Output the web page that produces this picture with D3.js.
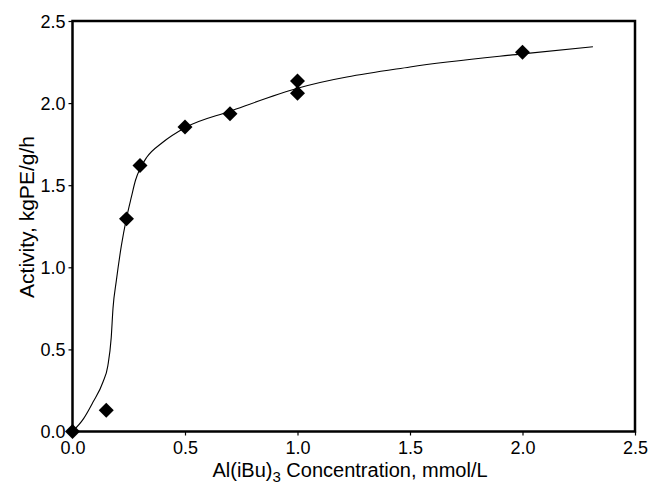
<!DOCTYPE html>
<html>
<head>
<meta charset="utf-8">
<style>
  body { margin: 0; background: #fff; }
  text { font-family: Arial, "Liberation Sans", sans-serif; fill: #000; }
</style>
</head>
<body>
<svg id="chart" width="649" height="484"></svg>
<script src="https://d3js.org/d3.v7.min.js"></script>
<script>

// measured points
var concentration = [0, 0.15, 0.24, 0.3, 0.5, 0.7, 1.0, 1.0, 2.0];
var activity = [0, 0.13, 1.295, 1.62, 1.855, 1.935, 2.135, 2.06, 2.31];

// fitted curve
var fitX = [0, 0.05, 0.09, 0.135, 0.157, 0.172, 0.18, 0.195, 0.217, 0.24, 0.262, 0.28, 0.3, 0.33, 0.4, 0.5, 0.7, 1.0, 1.5, 2.0, 2.313];
var fitY = [0, 0.08, 0.176, 0.30, 0.40, 0.57, 0.75, 0.92, 1.13, 1.30, 1.43, 1.53, 1.60, 1.67, 1.76, 1.85, 1.95, 2.09, 2.22, 2.30, 2.343];

var xTicks = [0, 0.5, 1.0, 1.5, 2.0, 2.5];
var yTicks = [0, 0.5, 1.0, 1.5, 2.0, 2.5];

var svg = d3.select("#chart"),
    margin = {top: 21, right: 14, bottom: 52.5, left: 72.5},
    width = +svg.attr("width") - margin.left - margin.right,
    height = +svg.attr("height") - margin.top - margin.bottom,
    g = svg.append("g").attr("transform", "translate(" + margin.left + "," + margin.top + ")");

var x = d3.scaleLinear().domain([0, 2.5]).range([0, width]);
var y = d3.scaleLinear().domain([0, 2.5]).range([height, 0]);

var fmt = d3.format(".1f");

var xAxis = g.append("g")
    .attr("transform", "translate(0," + height + ")")
    .call(d3.axisBottom(x).tickValues(xTicks).tickFormat(fmt).tickSize(4).tickSizeOuter(0).tickPadding(6));

var yAxis = g.append("g")
    .call(d3.axisLeft(y).tickValues(yTicks).tickFormat(fmt).tickSize(4).tickSizeOuter(0).tickPadding(3));

[xAxis, yAxis].forEach(function(a) {
  a.select(".domain").remove();
  a.selectAll(".tick line").attr("stroke", "#000").attr("stroke-width", 1.2);
  a.selectAll(".tick text").style("font-size", "18px").attr("fill", "#000");
});
yAxis.selectAll(".tick text").attr("dy", "0.36em");

// frame
g.append("rect")
    .attr("x", 0).attr("y", 0)
    .attr("width", width).attr("height", height)
    .attr("fill", "none")
    .attr("stroke", "#000")
    .attr("stroke-width", 2.5);

var fit = fitX.map(function(d, i) { return {x: d, y: fitY[i]}; });

var line = d3.line()
    .x(function(d) { return x(d.x); })
    .y(function(d) { return y(d.y); })
    .curve(d3.curveMonotoneX);

g.append("path")
    .datum(fit)
    .attr("fill", "none")
    .attr("stroke", "#000")
    .attr("stroke-width", 1.1)
    .attr("d", line);

var pts = concentration.map(function(d, i) { return {x: d, y: activity[i]}; });

g.selectAll(".pt")
    .data(pts)
  .enter().append("path")
    .attr("class", "pt")
    .attr("d", d3.symbol().type(d3.symbolSquare).size(112))
    .attr("transform", function(d) { return "translate(" + x(d.x) + "," + y(d.y) + ") rotate(45)"; })
    .attr("fill", "#000");

// axis titles
var xt = svg.append("text")
    .attr("x", 350)
    .attr("y", 477)
    .attr("text-anchor", "middle")
    .style("font-size", "20px");
xt.append("tspan").text("Al(iBu)");
xt.append("tspan").attr("dy", 5).style("font-size", "15px").text("3");
xt.append("tspan").attr("dy", -5).text(" Concentration, mmol/L");

svg.append("text")
    .attr("transform", "translate(34,217) rotate(-90)")
    .attr("text-anchor", "middle")
    .style("font-size", "21px")
    .text("Activity, kgPE/g/h");

</script>
</body>
</html>
